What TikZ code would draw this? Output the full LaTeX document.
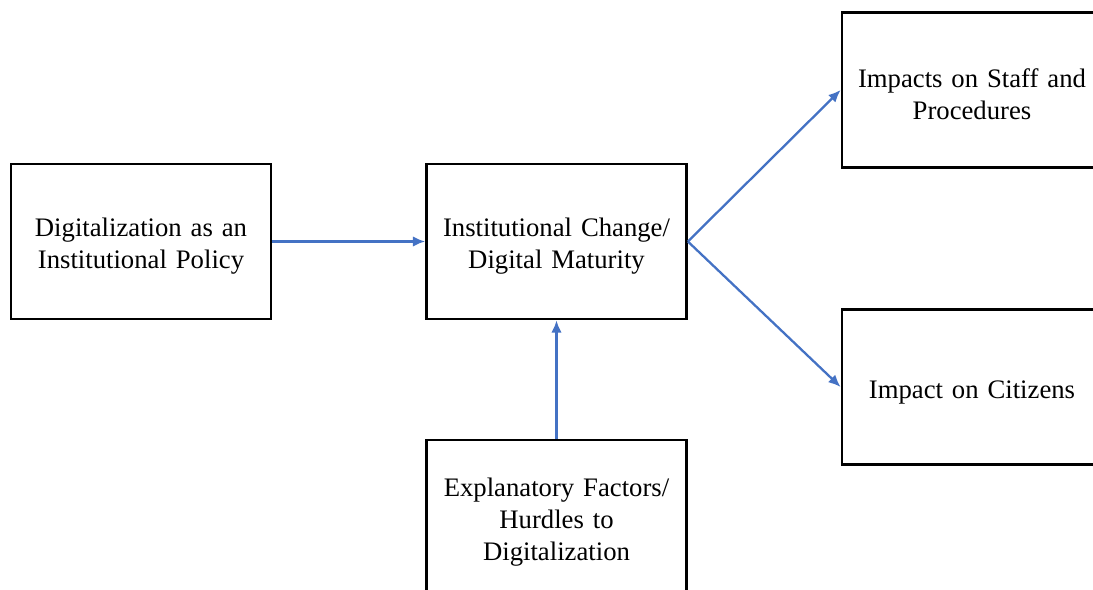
\documentclass[tikz,border=0pt]{standalone}
\usepackage{fontspec}
\setmainfont{Liberation Serif}
\usetikzlibrary{arrows.meta}
\definecolor{linkblue}{RGB}{68,114,196}

\begin{document}
\begin{tikzpicture}[x=0.02cm,y=-0.02cm,
  stagebox/.style={draw=black,line width=1.6pt,minimum width=5.2cm,minimum height=3.1cm,
    align=center,text width=5cm,font=\fontsize{15.2}{18.2}\selectfont,inner sep=2pt,
    execute at begin node={\rule{0pt}{16pt}}},
  link/.style={draw=linkblue,line width=1.3pt,-{Latex[length=7pt,width=6pt]}}]
  \useasboundingbox (0,0) rectangle (1093,590);
  \clip (0,0) rectangle (1093,590);
  % boxes
  \node[stagebox] (policy) at (141,241.5) {Digitalization as an\\Institutional Policy};
  \node[stagebox] (change) at (556.5,241.5) {Institutional Change/\\Digital Maturity};
  \node[stagebox] (hurdles) at (556.5,517.5) {Explanatory Factors/\\Hurdles to\\Digitalization};
  \node[stagebox] (staff) at (972,90) {Impacts on Staff and\\Procedures};
  \node[stagebox] (citizens) at (972,387) {Impact on Citizens};
  % arrows
  \draw[link] (policy.east) -- (change.west);
  \draw[link] (hurdles.north) -- (change.south);
  \draw[link] (change.east) -- (staff.west);
  \draw[link] (change.east) -- (citizens.west);
\end{tikzpicture}
\end{document}
